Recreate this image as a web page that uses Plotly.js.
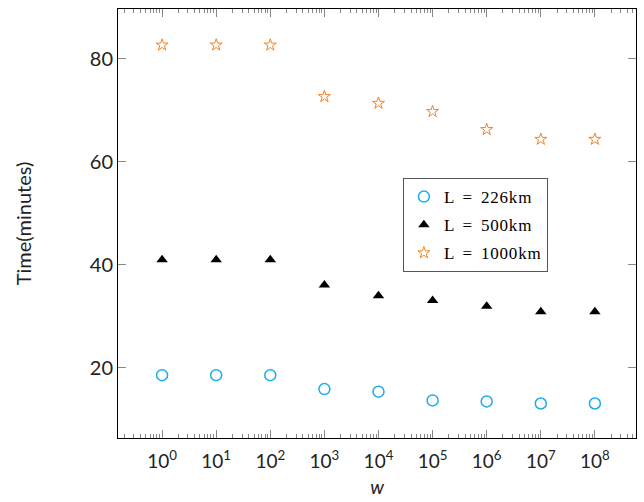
<!DOCTYPE html>
<html>
<head>
<meta charset="utf-8">
<script src="https://cdn.plot.ly/plotly-3.0.1.min.js"></script>
<style>
html,body{margin:0;padding:0;background:#fff;}
#chart{width:644px;height:502px;}
.legendtext{letter-spacing:0.8px;word-spacing:3px;}
</style>
</head>
<body>
<div id="chart"></div>
<script>
var wValues = [1, 10, 100, 1000, 10000, 100000, 1000000, 10000000, 100000000];
var time226 = [18.6, 18.6, 18.6, 15.9, 15.4, 13.7, 13.5, 13.1, 13.1];
var time500 = [41.0, 41.0, 41.0, 36.1, 34.0, 33.1, 32.0, 30.9, 30.9];
var time1000 = [82.7, 82.7, 82.7, 72.7, 71.4, 69.8, 66.3, 64.4, 64.4];
var seriesNames = ['L = 226km', 'L = 500km', 'L = 1000km'];
var xTickVals = [1, 10, 100, 1000, 10000, 100000, 1000000, 10000000, 100000000];
var xTickText = ['10<sup>0</sup>', '10<sup>1</sup>', '10<sup>2</sup>', '10<sup>3</sup>', '10<sup>4</sup>', '10<sup>5</sup>', '10<sup>6</sup>', '10<sup>7</sup>', '10<sup>8</sup>'];
var yTickVals = [20, 40, 60, 80];

var traces = [
  {x: wValues, y: time226, name: seriesNames[0], mode: 'markers', type: 'scatter', legendgroup: 'a',
   marker: {symbol: 'circle-open', size: 11, color: '#1aaee8', line: {width: 1.5, color: '#1aaee8'}}},
  {x: wValues, y: time500, name: seriesNames[1], mode: 'markers', type: 'scatter', legendgroup: 'b',
   marker: {symbol: 'triangle-up', size: 10, color: '#000000'}},
  {x: wValues, y: time1000, name: seriesNames[2], mode: 'markers', type: 'scatter', legendgroup: 'c',
   marker: {symbol: 'star-open', size: 9, color: '#f5821f', line: {width: 1, color: '#f5821f'}}}
];

var layout = {
  width: 644, height: 502,
  margin: {l: 118, r: 8, t: 9, b: 64},
  paper_bgcolor: '#fff', plot_bgcolor: '#fff',
  showlegend: true,
  legend: {
    x: 0.55, y: 0.606, xanchor: 'left', yanchor: 'top',
    bgcolor: '#fff', bordercolor: '#555', borderwidth: 1,
    font: {family: 'Liberation Serif, Times New Roman, serif', size: 17, color: '#000'},
    tracegroupgap: 3, traceorder: 'grouped', itemwidth: 30
  },
  xaxis: {
    type: 'log', range: [-0.815, 8.76],
    tickvals: xTickVals, ticktext: xTickText,
    ticks: 'inside', ticklen: 8, tickcolor: '#888', tickwidth: 1,
    showline: true, linecolor: '#000', linewidth: 1, mirror: 'ticks',
    showgrid: false, zeroline: false,
    ticklabelstandoff: 6,
    tickfont: {family: 'Lato, sans-serif', size: 19, color: '#222'},
    minor: {ticks: 'inside', ticklen: 4, tickcolor: '#888', dtick: 'D1', showgrid: false},
    title: {text: '<i>w</i>', font: {family: 'Lato, sans-serif', size: 19, color: '#222'}, standoff: 9}
  },
  yaxis: {
    range: [6.4, 89.7],
    tickvals: yTickVals,
    ticks: 'inside', ticklen: 8, tickcolor: '#888', tickwidth: 1,
    showline: true, linecolor: '#000', linewidth: 1, mirror: 'ticks',
    showgrid: false, zeroline: false,
    tickfont: {family: 'Lato, sans-serif', size: 20, color: '#222'},
    title: {text: 'Time(minutes)', font: {family: 'Lato, sans-serif', size: 20, color: '#222'}, standoff: 52}
  }
};

Plotly.newPlot('chart', traces, layout, {displayModeBar: false, staticPlot: true});
</script>
</body>
</html>
